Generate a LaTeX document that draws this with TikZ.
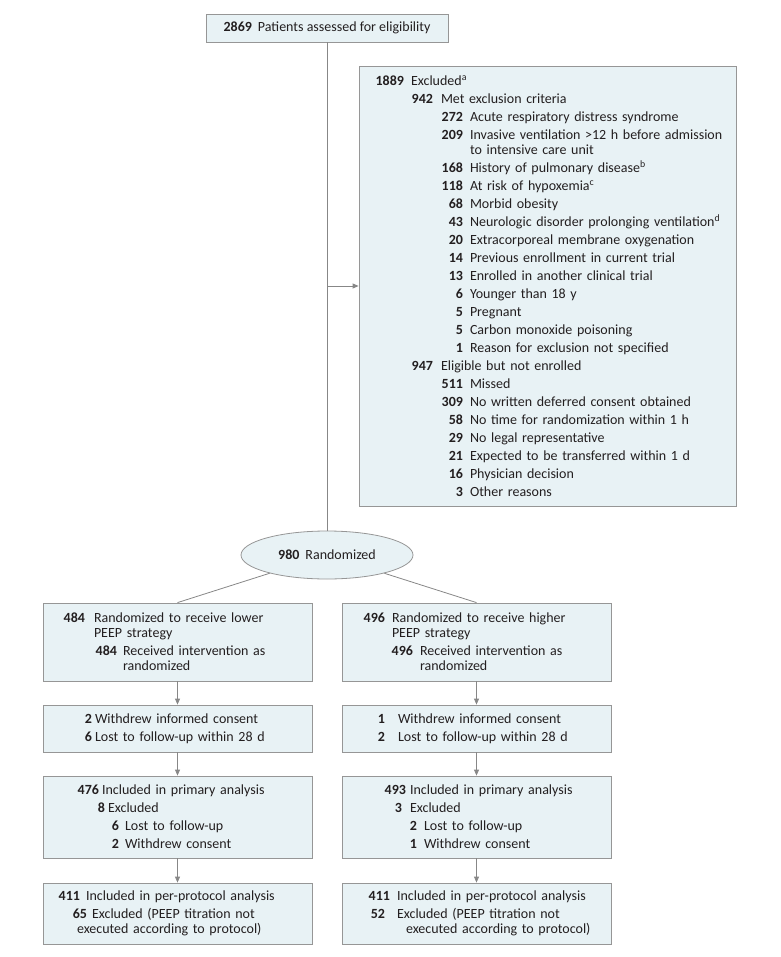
\documentclass[tikz,border=0pt]{standalone}
\usepackage{fontspec}
\setmainfont{Carlito}
\usetikzlibrary{shapes.geometric, arrows.meta}

\definecolor{boxfill}{RGB}{232,242,245}
\definecolor{boxline}{RGB}{150,150,150}
\definecolor{wire}{RGB}{135,135,135}
\definecolor{ink}{RGB}{35,31,32}
\setlength{\parindent}{0pt}
\hyphenpenalty=10000

% number right edge, text start, number, text
\newcommand{\nr}[4]{\makebox[#1pt][r]{\textbf{#3}}\hspace{\dimexpr#2pt-#1pt\relax}#4}
\newcommand{\cont}[2]{\hspace*{#1pt}#2}

\begin{document}
\begin{tikzpicture}[x=1pt, y=-1pt, text=ink,
    font=\fontsize{14}{15}\selectfont,
    box/.style={draw=boxline, fill=boxfill, line width=0.8pt, inner sep=0pt, align=left, text width=#1},
    box/.default=269pt,
    topbox/.style={draw=boxline, fill=boxfill, line width=0.8pt, inner sep=0pt, minimum width=242pt, minimum height=28pt},
    randbox/.style={ellipse, draw=boxline, fill=boxfill, line width=0.8pt, inner sep=0pt, minimum width=172pt, minimum height=48pt},
    wire/.style={draw=wire, line width=0.8pt},
    arr/.style={wire, -{Triangle[length=6pt, width=5pt]}}]

    \useasboundingbox (0,0) rectangle (780,957);

    \node [topbox] (assess) at (327, 28) {\textbf{2869}\hspace{6pt}Patients assessed for eligibility};

    \node [box=377pt, minimum height=440pt] (excl) at (547.5, 286) {%
        \nr{45}{52}{1889}{Excluded\textsuperscript{a}}\\[3pt]
        \nr{74}{82}{942}{Met exclusion criteria}\\[3pt]
        \nr{104}{111}{272}{Acute respiratory distress syndrome}\\[3pt]
        \nr{104}{111}{209}{Invasive ventilation >12 h before admission}\\
        \cont{111}{to intensive care unit}\\[3pt]
        \nr{104}{111}{168}{History of pulmonary disease\textsuperscript{b}}\\[3pt]
        \nr{104}{111}{118}{At risk of hypoxemia\textsuperscript{c}}\\[3pt]
        \nr{104}{111}{68}{Morbid obesity}\\[3pt]
        \nr{104}{111}{43}{Neurologic disorder prolonging ventilation\textsuperscript{d}}\\[3pt]
        \nr{104}{111}{20}{Extracorporeal membrane oxygenation}\\[3pt]
        \nr{104}{111}{14}{Previous enrollment in current trial}\\[3pt]
        \nr{104}{111}{13}{Enrolled in another clinical trial}\\[3pt]
        \nr{104}{111}{6}{Younger than 18 y}\\[3pt]
        \nr{104}{111}{5}{Pregnant}\\[3pt]
        \nr{104}{111}{5}{Carbon monoxide poisoning}\\[3pt]
        \nr{104}{111}{1}{Reason for exclusion not specified}\\[3pt]
        \nr{74}{82}{947}{Eligible but not enrolled}\\[3pt]
        \nr{104}{111}{511}{Missed}\\[3pt]
        \nr{104}{111}{309}{No written deferred consent obtained}\\[3pt]
        \nr{104}{111}{58}{No time for randomization within 1 h}\\[3pt]
        \nr{104}{111}{29}{No legal representative}\\[3pt]
        \nr{104}{111}{21}{Expected to be transferred within 1 d}\\[3pt]
        \nr{104}{111}{16}{Physician decision}\\[3pt]
        \nr{104}{111}{3}{Other reasons}};

    \coordinate (split) at (327, 286);

    \node [randbox] (rand) at (327, 555) {\textbf{980}\hspace{6pt}Randomized};

    % lower PEEP arm
    \node [box, minimum height=78pt] (lowA) at (177.5, 642) {%
        \nr{42}{51}{484}{Randomized to receive lower}\\
        \cont{51}{PEEP strategy}\\[3pt]
        \nr{74}{80}{484}{Received intervention as}\\
        \cont{80}{randomized}};
    \node [box, minimum height=47pt] (lowB) at (177.5, 728.5) {%
        \nr{49}{52}{2}{Withdrew informed consent}\\[3pt]
        \nr{49}{52}{6}{Lost to follow-up within 28 d}};
    \node [box, minimum height=82pt] (lowC) at (177.5, 817) {%
        \nr{56}{59}{476}{Included in primary analysis}\\[3pt]
        \nr{62}{65}{8}{Excluded}\\[3pt]
        \nr{76}{82}{6}{Lost to follow-up}\\[3pt]
        \nr{76}{82}{2}{Withdrew consent}};
    \node [box, minimum height=61pt] (lowD) at (177.5, 913.5) {%
        \nr{37}{43}{411}{Included in per-protocol analysis}\\[3pt]
        \nr{44}{49}{65}{Excluded (PEEP titration not}\\
        \cont{34}{executed according to protocol)}};

    % higher PEEP arm
    \node [box, minimum height=78pt] (highA) at (476.5, 642) {%
        \nr{43}{50}{496}{Randomized to receive higher}\\
        \cont{50}{PEEP strategy}\\[3pt]
        \nr{71}{78}{496}{Received intervention as}\\
        \cont{78}{randomized}};
    \node [box, minimum height=47pt] (highB) at (476.5, 728.5) {%
        \nr{43}{56}{1}{Withdrew informed consent}\\[3pt]
        \nr{43}{56}{2}{Lost to follow-up within 28 d}};
    \node [box, minimum height=82pt] (highC) at (476.5, 817) {%
        \nr{64}{68}{493}{Included in primary analysis}\\[3pt]
        \nr{60}{68}{3}{Excluded}\\[3pt]
        \nr{75}{82}{2}{Lost to follow-up}\\[3pt]
        \nr{75}{82}{1}{Withdrew consent}};
    \node [box, minimum height=61pt] (highD) at (476.5, 913.5) {%
        \nr{48}{55}{411}{Included in per-protocol analysis}\\[3pt]
        \nr{43}{55}{52}{Excluded (PEEP titration not}\\
        \cont{64}{executed according to protocol)}};

    \path [wire] (assess) -- (rand);
    \path [arr] (split) -- (excl);
    \path [wire] (rand) -- (lowA.north);
    \path [wire] (rand) -- (highA.north);
    \path [arr] (lowA) -- (lowB);
    \path [arr] (lowB) -- (lowC);
    \path [arr] (lowC) -- (lowD);
    \path [arr] (highA) -- (highB);
    \path [arr] (highB) -- (highC);
    \path [arr] (highC) -- (highD);
\end{tikzpicture}
\end{document}
